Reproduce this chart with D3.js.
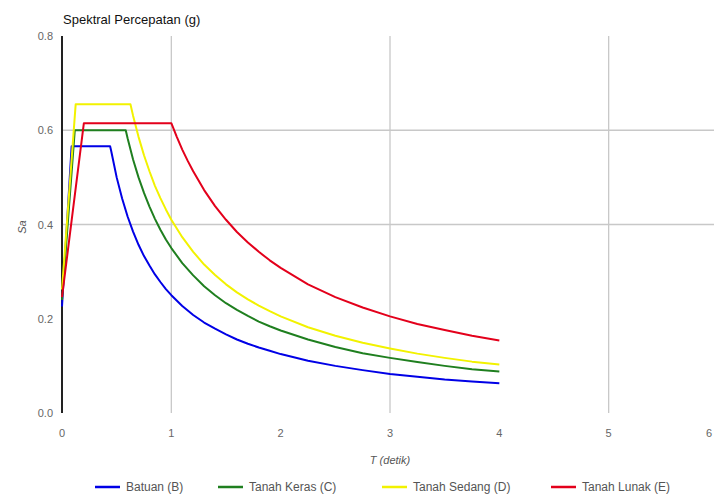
<!DOCTYPE html>
<html>
<head>
<meta charset="utf-8">
<script src="https://cdn.jsdelivr.net/npm/d3@7"></script>
<style>
  body { margin: 0; background: #fff; overflow: hidden; }
  text { font-family: "Liberation Sans", Arial, sans-serif; }
</style>
</head>
<body>
<div id="container"></div>
<script>
const w = 714;
const h = 500;

// periods (s) and spectral acceleration (g)
const tB = [0, 0.088, 0.44, 0.45, 0.5, 0.55, 0.6, 0.65, 0.7, 0.75, 0.8, 0.85, 0.9, 0.95, 1.0, 1.1, 1.2, 1.3, 1.4, 1.5, 1.6, 1.7, 1.8, 1.9, 2.0, 2.25, 2.5, 2.75, 3.0, 3.25, 3.5, 3.75, 4.0];
const saB = [0.226, 0.566, 0.566, 0.556, 0.5, 0.455, 0.417, 0.385, 0.357, 0.333, 0.313, 0.294, 0.278, 0.263, 0.25, 0.227, 0.208, 0.192, 0.179, 0.167, 0.156, 0.147, 0.139, 0.132, 0.125, 0.111, 0.1, 0.091, 0.083, 0.077, 0.071, 0.067, 0.063];

const tC = [0, 0.117, 0.583, 0.6, 0.65, 0.7, 0.75, 0.8, 0.85, 0.9, 0.95, 1.0, 1.1, 1.2, 1.3, 1.4, 1.5, 1.6, 1.7, 1.8, 1.9, 2.0, 2.25, 2.5, 2.75, 3.0, 3.25, 3.5, 3.75, 4.0];
const saC = [0.24, 0.6, 0.6, 0.583, 0.538, 0.5, 0.467, 0.438, 0.412, 0.389, 0.368, 0.35, 0.318, 0.292, 0.269, 0.25, 0.233, 0.219, 0.206, 0.194, 0.184, 0.175, 0.156, 0.14, 0.127, 0.117, 0.108, 0.1, 0.093, 0.088];

const tD = [0, 0.125, 0.626, 0.65, 0.7, 0.75, 0.8, 0.85, 0.9, 0.95, 1.0, 1.1, 1.2, 1.3, 1.4, 1.5, 1.6, 1.7, 1.8, 1.9, 2.0, 2.25, 2.5, 2.75, 3.0, 3.25, 3.5, 3.75, 4.0];
const saD = [0.262, 0.655, 0.655, 0.631, 0.586, 0.547, 0.513, 0.482, 0.456, 0.432, 0.41, 0.373, 0.342, 0.315, 0.293, 0.273, 0.256, 0.241, 0.228, 0.216, 0.205, 0.182, 0.164, 0.149, 0.137, 0.126, 0.117, 0.109, 0.103];

const tE = [0, 0.2, 1.0, 1.05, 1.1, 1.15, 1.2, 1.3, 1.4, 1.5, 1.6, 1.7, 1.8, 1.9, 2.0, 2.25, 2.5, 2.75, 3.0, 3.25, 3.5, 3.75, 4.0];
const saE = [0.246, 0.615, 0.615, 0.586, 0.559, 0.535, 0.513, 0.473, 0.439, 0.41, 0.384, 0.362, 0.342, 0.324, 0.308, 0.273, 0.246, 0.224, 0.205, 0.189, 0.176, 0.164, 0.154];

const seriesNames = ["Batuan (B)", "Tanah Keras (C)", "Tanah Sedang (D)", "Tanah Lunak (E)"];
const seriesColors = ["#0000e6", "#1f7f1f", "#f2f200", "#e3001b"];

const xTicks = [0, 1, 2, 3, 4, 5, 6];
const yTicks = [0, 0.2, 0.4, 0.6, 0.8];
const xGrid = [1, 3, 5];
const yGrid = [0.4, 0.6];

const series = [
  { name: seriesNames[0], t: tB, sa: saB },
  { name: seriesNames[1], t: tC, sa: saC },
  { name: seriesNames[2], t: tD, sa: saD },
  { name: seriesNames[3], t: tE, sa: saE }
];

const x = d3.scaleLinear().domain([0, 6]).range([62, 718]);
const y = d3.scaleLinear().domain([0, 0.8]).range([413, 36]);
const color = d3.scaleOrdinal().domain(seriesNames).range(seriesColors);

const svg = d3.select("#container")
              .append("svg")
              .attr("width", w)
              .attr("height", h);

// grid
svg.append("g")
   .selectAll("line")
   .data(xGrid)
   .enter()
   .append("line")
   .attr("x1", d => x(d)).attr("x2", d => x(d))
   .attr("y1", y(0.8)).attr("y2", y(0))
   .attr("stroke", "#c8c8c8")
   .attr("stroke-width", 1.3);

svg.append("g")
   .selectAll("line")
   .data(yGrid)
   .enter()
   .append("line")
   .attr("x1", x(0)).attr("x2", w)
   .attr("y1", d => y(d)).attr("y2", d => y(d))
   .attr("stroke", "#c8c8c8")
   .attr("stroke-width", 1.3);

// y axis line
svg.append("line")
   .attr("x1", x(0)).attr("x2", x(0))
   .attr("y1", y(0.8)).attr("y2", y(0))
   .attr("stroke", "#222")
   .attr("stroke-width", 2);

// tick labels
svg.append("g")
   .selectAll("text")
   .data(yTicks)
   .enter()
   .append("text")
   .attr("x", 53)
   .attr("y", d => y(d) + 4)
   .attr("text-anchor", "end")
   .style("font-size", "11px")
   .attr("fill", "#666")
   .text(d => d3.format(".1f")(d));

// last tick sits at the window edge, keep it inside
svg.append("g")
   .selectAll("text")
   .data(xTicks)
   .enter()
   .append("text")
   .attr("x", d => Math.min(x(d), w - 2))
   .attr("y", 437)
   .attr("text-anchor", d => x(d) > w - 6 ? "end" : "middle")
   .style("font-size", "11px")
   .attr("fill", "#666")
   .text(d => d);

// titles
svg.append("text")
   .attr("x", 63)
   .attr("y", 24)
   .style("font-size", "13px")
   .attr("fill", "#111")
   .text("Spektral Percepatan (g)");

svg.append("text")
   .attr("transform", "translate(26,227) rotate(-90)")
   .attr("text-anchor", "middle")
   .style("font-size", "11px")
   .style("font-style", "italic")
   .attr("fill", "#555")
   .text("Sa");

svg.append("text")
   .attr("x", x(3))
   .attr("y", 464)
   .attr("text-anchor", "middle")
   .style("font-size", "11px")
   .style("font-style", "italic")
   .attr("fill", "#555")
   .text("T (detik)");

// curves
const line = d3.line()
               .x(d => x(d[0]))
               .y(d => y(d[1]));

svg.append("g")
   .selectAll("path")
   .data(series)
   .enter()
   .append("path")
   .attr("d", d => line(d.t.map((t, i) => [t, d.sa[i]])))
   .attr("fill", "none")
   .attr("stroke", d => color(d.name))
   .attr("stroke-width", 2)
   .attr("stroke-linejoin", "round");

// legend
const legendX = [95, 218, 382, 551];
const legend = svg.append("g")
                  .selectAll("g")
                  .data(seriesNames)
                  .enter()
                  .append("g")
                  .attr("transform", (d, i) => "translate(" + legendX[i] + ",487)");

legend.append("line")
      .attr("x1", 0).attr("x2", 25)
      .attr("y1", 0).attr("y2", 0)
      .attr("stroke", d => color(d))
      .attr("stroke-width", 2.5);

legend.append("text")
      .attr("x", 31)
      .attr("y", 4)
      .style("font-size", "12px")
      .attr("fill", "#555")
      .text(d => d);
</script>
</body>
</html>
